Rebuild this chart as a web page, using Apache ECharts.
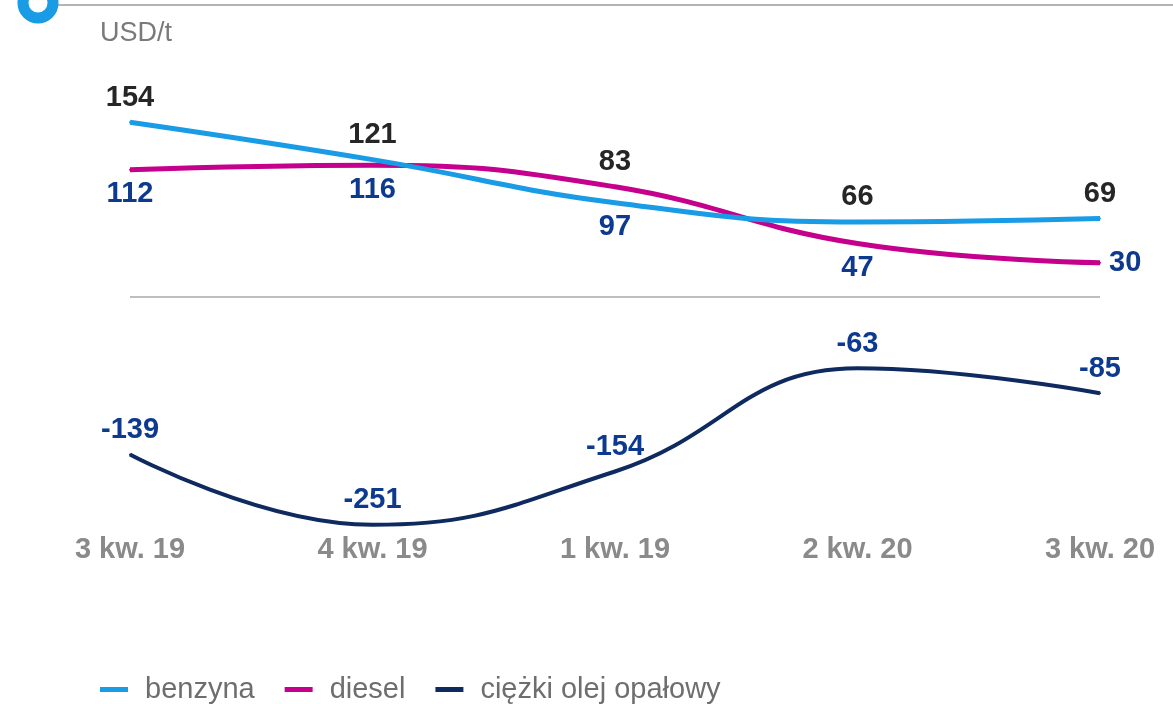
<!DOCTYPE html>
<html>
<head>
<meta charset="utf-8">
<script src="https://cdn.jsdelivr.net/npm/echarts@6/dist/echarts.min.js"></script>
<style>
  html, body { margin: 0; padding: 0; background: #fff; }
  #chart { width: 1173px; height: 704px; }
</style>
</head>
<body>
<div id="chart"></div>
<script>
// dane z wykresu
var quarters = ['3 kw. 19', '4 kw. 19', '1 kw. 19', '2 kw. 20', '3 kw. 20'];
var benzyna = [154, 121, 83, 66, 69];
var diesel = [112, 116, 97, 47, 30];
var olejOpalowy = [-139, -251, -154, -63, -85];
var unit = 'USD/t';

var font = '"Liberation Sans", Arial, sans-serif';
var chart = echarts.init(document.getElementById('chart'));

function pointLabels(values, color, pos, distances) {
    return values.map(function (v, i) {
        var p = typeof pos === 'function' ? pos(i) : pos;
        return {
            value: v,
            label: {
                show: true,
                position: p,
                distance: distances ? distances[i] : 9,
                color: color,
                fontFamily: font,
                fontWeight: 'bold',
                fontSize: 29
            }
        };
    });
}

function buildOption(bDist, dDist) {
    return {
        animation: false,
        textStyle: { fontFamily: font },
        grid: { left: 130, right: 73, top: 70, bottom: 169 },
        graphic: [
            {
                type: 'line',
                shape: { x1: 55, y1: 5, x2: 1173, y2: 5 },
                style: { stroke: '#b4b4b4', lineWidth: 2 }
            },
            {
                type: 'circle',
                shape: { cx: 38, cy: 3, r: 15 },
                style: { fill: '#fff', stroke: '#1a9be6', lineWidth: 11 }
            },
            {
                type: 'text',
                left: 100, top: 20,
                style: { text: unit, fill: '#7a7a7a', font: '27px ' + font }
            }
        ],
        legend: {
            left: 95,
            top: 670,
            itemWidth: 28,
            itemHeight: 5,
            itemGap: 30,
            icon: 'rect',
            textStyle: { color: '#6e6e6e', fontSize: 29, fontFamily: font, padding: [0, 0, 0, 12] },
            data: ['benzyna', 'diesel', 'ciężki olej opałowy']
        },
        xAxis: {
            type: 'category',
            data: quarters,
            boundaryGap: false,
            axisLine: { show: false },
            axisTick: { show: false },
            axisLabel: {
                margin: 0,
                color: '#8a8a8a',
                fontSize: 29,
                fontWeight: 'bold',
                fontFamily: font
            }
        },
        yAxis: {
            type: 'value',
            min: -260,
            max: 200,
            axisLine: { show: false },
            axisTick: { show: false },
            axisLabel: { show: false },
            splitLine: { show: false },
            breaks: [{ start: -230, end: -170, gap: 10 }],
            breakArea: { show: false, expandOnClick: false }
        },
        series: [
            {
                name: 'benzyna',
                type: 'line',
                smooth: 0.45,
                symbol: 'circle',
                symbolSize: 2,
                z: 3,
                itemStyle: { color: '#1a9be6' },
                lineStyle: { color: '#1a9be6', width: 5 },
                data: pointLabels(benzyna, '#262626', 'top', bDist),
                markLine: {
                    silent: true,
                    symbol: 'none',
                    label: { show: false },
                    lineStyle: { color: '#a8a8a8', width: 1.5, type: 'solid' },
                    data: [{ yAxis: 0 }]
                }
            },
            {
                name: 'diesel',
                type: 'line',
                smooth: 0.45,
                symbol: 'circle',
                symbolSize: 2,
                z: 2,
                itemStyle: { color: '#c4008c' },
                lineStyle: { color: '#c4008c', width: 5 },
                data: pointLabels(diesel, '#0d3a8e', function (i) {
                    return i === diesel.length - 1 ? 'right' : 'bottom';
                }, dDist)
            },
            {
                name: 'ciężki olej opałowy',
                type: 'line',
                smooth: 0.45,
                symbol: 'circle',
                symbolSize: 2,
                itemStyle: { color: '#0e2a5e' },
                lineStyle: { color: '#0e2a5e', width: 4 },
                data: pointLabels(olejOpalowy, '#0d3a8e', 'top')
            }
        ]
    };
}

chart.setOption(buildOption());

// etykiety: czarne zawsze nad wyższą linią, granatowe pod niższą
var bDist = [], dDist = [];
for (var i = 0; i < quarters.length; i++) {
    var yb = chart.convertToPixel({ yAxisIndex: 0 }, benzyna[i]);
    var yd = chart.convertToPixel({ yAxisIndex: 0 }, diesel[i]);
    var yTop = Math.min(yb, yd), yBottom = Math.max(yb, yd);
    bDist.push(9 + (yb - yTop));
    dDist.push(i === quarters.length - 1 ? 8 : 9 + (yBottom - yd));
}
chart.setOption(buildOption(bDist, dDist), true);
</script>
</body>
</html>
